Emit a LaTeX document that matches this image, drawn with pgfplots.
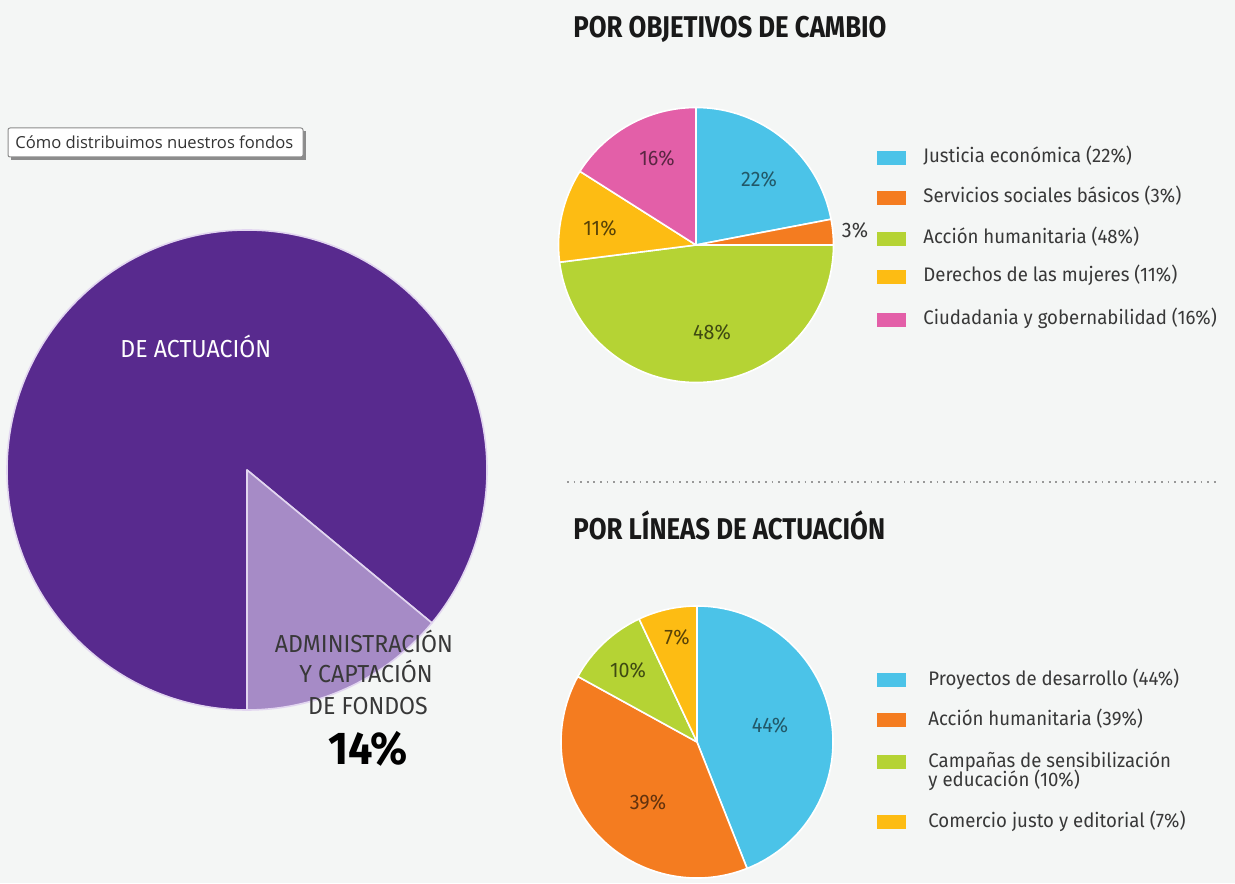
\documentclass[border=0pt]{standalone}
\usepackage{pgfplots}
\usepackage{pgfplotstable}
\pgfplotsset{compat=1.18}
\usepackage{fontspec}
\setmainfont{Fira Sans}
\newfontfamily\dinR[FakeStretch=0.95]{Fira Sans}
\newfontfamily\dinC[FakeStretch=0.94]{Fira Sans}
\newfontfamily\dinT[FakeStretch=0.86]{Fira Sans}
\newfontfamily\tipfont{Open Sans}

\definecolor{bgc}{HTML}{F4F6F5}
\definecolor{purpD}{HTML}{582A8E}
\definecolor{purpL}{HTML}{A68BC6}
\definecolor{sepL}{HTML}{E2D6F0}
\definecolor{cyanP}{HTML}{4BC3E8}
\definecolor{orangeP}{HTML}{F47C20}
\definecolor{greenP}{HTML}{B5D334}
\definecolor{yellowP}{HTML}{FDBC13}
\definecolor{pinkP}{HTML}{E35FA8}
\definecolor{txt}{HTML}{383838}

% big pie: share of funds
\pgfplotstableread{
v c
86 purpD
14 purpL
}\fondos
% por objetivos de cambio
\pgfplotstableread{
v c
22 cyanP
3 orangeP
48 greenP
11 yellowP
16 pinkP
}\objetivos
% por lineas de actuacion
\pgfplotstableread{
v c
44 cyanP
39 orangeP
10 greenP
7 yellowP
}\lineas

% #1 table, #2 cx, #3 cy, #4 radius (px), #5 start angle, #6 separator colour
\newcommand\drawpie[6]{%
  \pgfmathsetmacro\rad{#4*0.5}%
  \edef\cumang{#5}%
  \pgfplotstablegetrowsof{#1}%
  \pgfmathtruncatemacro\lastrow{\pgfplotsretval-1}%
  \pgfplotsforeachungrouped \i in {0,...,\lastrow}{%
    \pgfplotstablegetelem{\i}{v}\of{#1}\let\val\pgfplotsretval
    \pgfplotstablegetelem{\i}{c}\of{#1}\let\col\pgfplotsretval
    \pgfmathsetmacro\endang{\cumang-3.6*\val}%
    \edef\temp{\noexpand\filldraw[overlay, fill=\col, draw=#6, line width=0.8pt, line join=round]
      (axis cs:#2,#3) -- ++(\cumang:\rad pt) arc[start angle=\cumang, end angle=\endang, radius=\rad pt] -- cycle;}%
    \temp
    \let\cumang\endang
  }%
}

\begin{document}
\begin{tikzpicture}
\begin{axis}[
  scale only axis,
  width=617.5pt, height=441.5pt,
  xmin=0, xmax=1235, ymin=0, ymax=883,
  hide axis, clip=false,
]
\fill[bgc] (axis cs:0,0) rectangle (axis cs:1235,883);

% tooltip
\fill[black!45] (axis cs:11,723) rectangle (axis cs:306,752);
\filldraw[fill=white, draw=black!45, line width=0.5pt, rounded corners=1pt] (axis cs:8,726) rectangle (axis cs:303,755);
\node[anchor=west, font=\tipfont\fontsize{8.3}{9}\selectfont, text=black!80, inner sep=0pt] at (axis cs:15,741) {Cómo distribuimos nuestros fondos};

% pies
\drawpie{\fondos}{247}{413}{240}{270}{sepL}
\drawpie{\objetivos}{696}{638}{137.5}{90}{white}
\drawpie{\lineas}{697}{141}{136}{90}{white}

% big pie labels
\node[anchor=base west, font=\dinC\fontsize{12.3}{14}\selectfont, text=white, inner sep=0pt] at (axis cs:120,525) {DE ACTUACIÓN};
\begin{scope}[every node/.style={anchor=base, font=\dinC\fontsize{12.3}{14}\selectfont, text=txt, inner sep=0pt}]
\node at (axis cs:364,230) {ADMINISTRACIÓN};
\node at (axis cs:366,200) {Y CAPTACIÓN};
\node at (axis cs:368,169) {DE FONDOS};
\end{scope}
\node[anchor=base, font=\dinC\bfseries\fontsize{23}{26}\selectfont, text=black, inner sep=0pt] at (axis cs:368,119) {14\%};

% titles
\node[anchor=base west, font=\dinT\bfseries\fontsize{15}{18}\selectfont, text=black!90, inner sep=0pt] at (axis cs:573,845) {POR OBJETIVOS DE CAMBIO};
\node[anchor=base west, font=\dinT\bfseries\fontsize{15}{18}\selectfont, text=black!90, inner sep=0pt] at (axis cs:573,343) {POR LÍNEAS DE ACTUACIÓN};
\draw[black!40, line width=0.9pt, dash pattern=on 0.9pt off 2.4pt] (axis cs:567,401) -- (axis cs:1218,401);

% slice labels, top pie
\begin{scope}[every node/.style={font=\dinC\fontsize{10.5}{12}\selectfont, inner sep=0pt}]
\node[text=cyanP!45!black] at (axis cs:759,704) {22\%};
\node[text=pinkP!40!black] at (axis cs:657,725) {16\%};
\node[text=yellowP!35!black] at (axis cs:600,655) {11\%};
\node[text=greenP!35!black] at (axis cs:712,551) {48\%};
\node[text=txt] at (axis cs:855,653) {3\%};
% bottom pie
\node[text=yellowP!35!black] at (axis cs:677,246) {7\%};
\node[text=greenP!35!black] at (axis cs:628,213) {10\%};
\node[text=cyanP!45!black] at (axis cs:770,158) {44\%};
\node[text=orangeP!40!black] at (axis cs:648,81) {39\%};
\end{scope}

% legends
\begin{scope}[every node/.style={anchor=base west, font=\dinR\fontsize{9.8}{9.8}\selectfont, text=txt, inner sep=0pt, align=left}]
\fill[cyanP] (axis cs:877,718) rectangle (axis cs:906,732);
\node at (axis cs:923,720) {Justicia económica (22\%)};
\fill[orangeP] (axis cs:877,678) rectangle (axis cs:906,692);
\node at (axis cs:923,680) {Servicios sociales básicos (3\%)};
\fill[greenP] (axis cs:877,637) rectangle (axis cs:906,651);
\node at (axis cs:923,639) {Acción humanitaria (48\%)};
\fill[yellowP] (axis cs:877,599) rectangle (axis cs:906,613);
\node at (axis cs:923,601) {Derechos de las mujeres (11\%)};
\fill[pinkP] (axis cs:877,556) rectangle (axis cs:906,570);
\node at (axis cs:923,558) {Ciudadania y gobernabilidad (16\%)};

\fill[cyanP] (axis cs:877,196) rectangle (axis cs:906,210);
\node at (axis cs:928,198) {Proyectos de desarrollo (44\%)};
\fill[orangeP] (axis cs:877,156) rectangle (axis cs:906,170);
\node at (axis cs:928,158) {Acción humanitaria (39\%)};
\fill[greenP] (axis cs:877,114) rectangle (axis cs:906,128);
\node at (axis cs:928,116) {Campañas de sensibilización};
\node at (axis cs:928,97) {y educación (10\%)};
\fill[yellowP] (axis cs:877,54) rectangle (axis cs:906,68);
\node at (axis cs:928,56) {Comercio justo y editorial (7\%)};
\end{scope}
\end{axis}
\end{tikzpicture}
\end{document}
